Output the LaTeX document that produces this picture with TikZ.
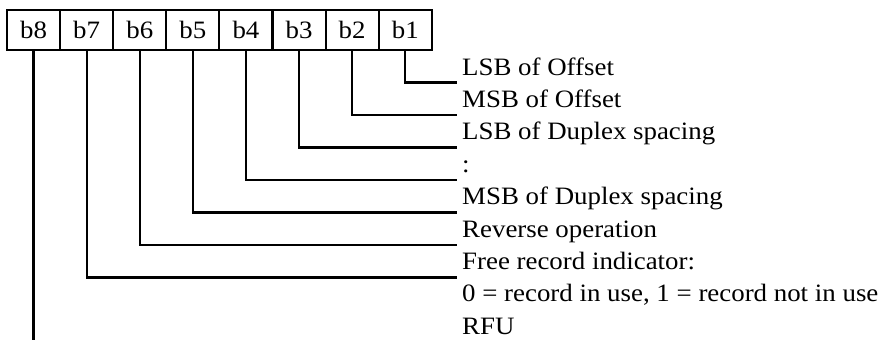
\documentclass[tikz,border=0pt]{standalone}
\usepackage{fontspec}
\setmainfont{Liberation Serif}[FakeStretch=1.075]
\begin{document}
\begin{tikzpicture}[x=1pt,y=-1pt,
  cell/.style={draw,line width=2pt,minimum width=53pt,minimum height=40pt,inner sep=0pt,font=\fontsize{25}{30}\selectfont},
  lbl/.style={anchor=base west,inner sep=0pt,font=\fontsize{25}{30}\selectfont},
  conn/.style={line width=2.2pt}]
\useasboundingbox (0,0) rectangle (878,340);
\foreach \i [count=\k] in {8,7,6,5,4,3,2,1} {
  \node[cell] (c\i) at ({7+53.1*(\k-0.5)},30) {b\i};
}
\node[lbl] (l1) at (462,75) {LSB of Offset};
\node[lbl] (l2) at (462,107.4) {MSB of Offset};
\node[lbl] (l3) at (462,139.8) {LSB of Duplex spacing};
\node[lbl] (l4) at (462,172.2) {:};
\node[lbl] (l5) at (462,204.6) {MSB of Duplex spacing};
\node[lbl] (l6) at (462,237) {Reverse operation};
\node[lbl] (l7) at (462,269.4) {Free record indicator:};
\node[lbl] (l7b) at (462,301.8) {0 = record in use, 1 = record not in use};
\node[lbl] (l8) at (462,334.2) {RFU};
\coordinate (e1) at (457,82.5);
\coordinate (e2) at (457,115);
\coordinate (e3) at (457,147.5);
\coordinate (e4) at (457,180);
\coordinate (e5) at (457,212.5);
\coordinate (e6) at (457,245);
\coordinate (e7) at (457,277.5);
\coordinate (bot) at (0,340);
\foreach \i in {1,...,7} {
  \draw[conn] (c\i.south) |- (e\i);
}
\draw[conn] (c8.south) -- (c8.south |- bot);
\end{tikzpicture}
\end{document}
